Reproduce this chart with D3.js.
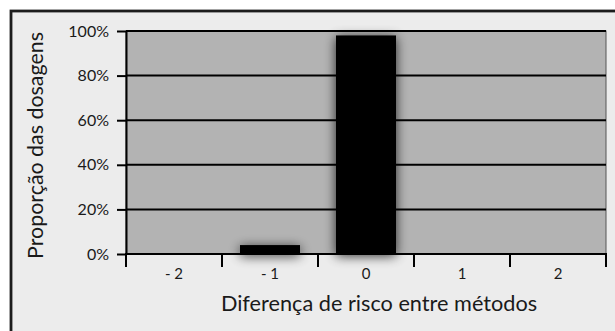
<!DOCTYPE html>
<html><head><meta charset="utf-8">
<script src="https://cdn.jsdelivr.net/npm/d3@7/dist/d3.min.js"></script>
<style>
html,body{margin:0;padding:0;background:#fff;}
svg{display:block;font-family:Lato,"Open Sans",sans-serif;}
</style></head>
<body>
<svg id="c" width="615" height="331"></svg>
<script>
const categories = ["- 2", "- 1", "0", "1", "2"];
const values = [0, 0.04, 0.98, 0, 0];
const yTicks = [0, 0.2, 0.4, 0.6, 0.8, 1];
const yTitle = "Proporção das dosagens";
const xTitle = "Diferença de risco entre métodos";

const svg = d3.select("#c");
const W = 615, H = 331;
const m = {left:126, right:606, top:31, bottom:254};

const defs = svg.append("defs");
const f = defs.append("filter").attr("id","sh")
  .attr("x","-50%").attr("y","-50%").attr("width","200%").attr("height","200%");
f.append("feGaussianBlur").attr("in","SourceAlpha").attr("stdDeviation",6).attr("result","b");
f.append("feOffset").attr("in","b").attr("dx",0).attr("dy",2).attr("result","o");
f.append("feComponentTransfer").attr("in","o").attr("result","t")
  .append("feFuncA").attr("type","linear").attr("slope",0.8);
const fm = f.append("feMerge");
fm.append("feMergeNode").attr("in","t");
fm.append("feMergeNode").attr("in","SourceGraphic");

// outer frame
svg.append("rect").attr("x",11).attr("y",11).attr("width",W+20).attr("height",H+20)
  .attr("fill","#ececec").attr("stroke","#1c1c1c").attr("stroke-width",2.8);

const x = d3.scaleBand().domain(categories).range([m.left, m.right])
  .paddingInner(0.375).paddingOuter(0.1875);
const y = d3.scaleLinear().domain([0,1]).range([m.bottom, m.top]);

// plot area
svg.append("rect").attr("x",m.left).attr("y",m.top)
  .attr("width",m.right-m.left).attr("height",m.bottom-m.top)
  .attr("fill","#b3b3b3").attr("stroke","#555").attr("stroke-width",1);

// gridlines
svg.append("g").selectAll("line").data(yTicks.filter(d=>d>0)).join("line")
  .attr("x1",m.left).attr("x2",m.right)
  .attr("y1",d=>y(d)).attr("y2",d=>y(d))
  .attr("stroke","#000").attr("stroke-width",2);

// bars
svg.append("g").attr("filter","url(#sh)").selectAll("rect")
  .data(categories.map((c,i)=>({c, v:values[i]})).filter(d=>d.v>0)).join("rect")
  .attr("x",d=>x(d.c)).attr("width",x.bandwidth())
  .attr("y",d=>y(d.v)).attr("height",d=>y(0)-y(d.v))
  .attr("fill","#000");

// y axis
const ya = d3.axisLeft(y).tickValues(yTicks).tickFormat(d3.format(".0%"))
  .tickSize(9).tickPadding(8).tickSizeOuter(0);
const yg = svg.append("g").attr("transform",`translate(${m.left},0)`).call(ya);
yg.select(".domain").attr("stroke","#000").attr("stroke-width",2);
yg.selectAll(".tick line").attr("stroke","#000").attr("stroke-width",2);
yg.selectAll(".tick text").attr("font-size",16).attr("fill","#1a1a1a")
  .attr("font-family","Lato,sans-serif");

// x axis line
svg.append("line").attr("x1",m.left-1).attr("x2",m.right+1)
  .attr("y1",m.bottom).attr("y2",m.bottom).attr("stroke","#000").attr("stroke-width",2);
// x boundary ticks
const step = x.step();
const bounds = categories.map(c => x(c) - step*x.paddingInner()/2);
bounds.push(bounds[bounds.length-1] + step);
svg.append("g").selectAll("line").data(bounds).join("line")
  .attr("x1",d=>d).attr("x2",d=>d).attr("y1",m.bottom-1).attr("y2",m.bottom+13)
  .attr("stroke","#000").attr("stroke-width",2);
// x labels
svg.append("g").selectAll("text").data(categories).join("text")
  .attr("x",d=>x(d)+x.bandwidth()/2).attr("y",278.5)
  .attr("text-anchor","middle").attr("font-size",15).attr("fill","#1a1a1a")
  .text(d=>d);

// titles
svg.append("text").attr("x",379).attr("y",311).attr("text-anchor","middle")
  .attr("font-size",21.7).attr("fill","#1a1a1a").text(xTitle);
svg.append("text").attr("transform","translate(43,145.5) rotate(-90)")
  .attr("text-anchor","middle").attr("font-size",21.4).attr("fill","#1a1a1a").text(yTitle);
</script>
</body></html>
